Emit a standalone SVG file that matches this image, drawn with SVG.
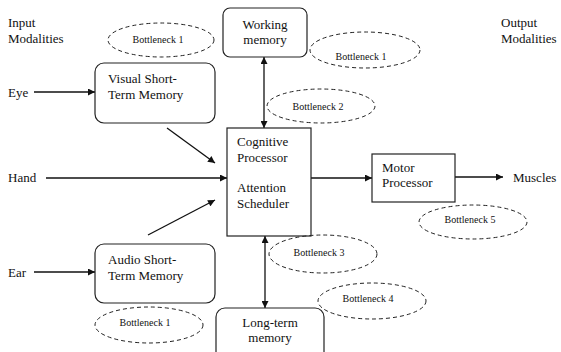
<svg xmlns="http://www.w3.org/2000/svg" width="561" height="352" viewBox="0 0 561 352" font-family="'Liberation Serif', 'DejaVu Serif', serif">
<defs>
<style>
text{font-family:'Liberation Serif','DejaVu Serif',serif;fill:#111}
.t{font-size:13px}
.s{font-size:10px}
.box{fill:#fff;stroke:#222;stroke-width:1.2}
.bn{fill:none;stroke:#222;stroke-width:1;stroke-dasharray:4,3}
.ln{stroke:#111;stroke-width:1.3;fill:none}
</style>
<marker id="ah" viewBox="0 0 10 10" refX="10" refY="5" markerWidth="8" markerHeight="7" markerUnits="userSpaceOnUse" orient="auto-start-reverse">
<path d="M0,0 L10,5 L0,10 z" fill="#111"/>
</marker>
</defs>
<g id="labels">
<text class="t" x="8" y="27">Input</text>
<text class="t" x="8" y="43">Modalities</text>
<text class="t" x="501" y="27">Output</text>
<text class="t" x="501" y="43">Modalities</text>
<text class="t" x="8" y="97">Eye</text>
<text class="t" x="8" y="182">Hand</text>
<text class="t" x="8" y="277">Ear</text>
<text class="t" x="513" y="182">Muscles</text>
</g>
<g id="connectors">
<line class="ln" x1="34" y1="92" x2="95" y2="92" marker-end="url(#ah)"/>
<line class="ln" x1="46" y1="178" x2="227" y2="178" marker-end="url(#ah)"/>
<line class="ln" x1="34" y1="272" x2="95" y2="272" marker-end="url(#ah)"/>
<line class="ln" x1="167" y1="128" x2="215" y2="163" marker-end="url(#ah)"/>
<line class="ln" x1="148" y1="235" x2="215" y2="200" marker-end="url(#ah)"/>
<line class="ln" x1="264" y1="57" x2="264" y2="128" marker-start="url(#ah)" marker-end="url(#ah)"/>
<line class="ln" x1="265" y1="236" x2="265" y2="308" marker-start="url(#ah)" marker-end="url(#ah)"/>
<line class="ln" x1="311" y1="178" x2="372" y2="178" marker-end="url(#ah)"/>
<line class="ln" x1="455" y1="177" x2="503" y2="177" marker-end="url(#ah)"/>
</g>
<g id="visual-stm">
<rect class="box" x="95" y="63" width="120" height="60" rx="9"/>
<text class="t" x="108" y="83">Visual Short-</text>
<text class="t" x="108" y="99">Term Memory</text>
</g>
<g id="audio-stm">
<rect class="box" x="95" y="244" width="120" height="59" rx="9"/>
<text class="t" x="108" y="264">Audio Short-</text>
<text class="t" x="108" y="280">Term Memory</text>
</g>
<g id="working-memory">
<rect class="box" x="223" y="8" width="84" height="49" rx="7"/>
<text class="t" x="265" y="29" text-anchor="middle">Working</text>
<text class="t" x="265" y="44" text-anchor="middle">memory</text>
</g>
<g id="cognitive">
<rect class="box" x="227" y="128" width="84" height="108"/>
<text class="t" x="237" y="146">Cognitive</text>
<text class="t" x="237" y="162">Processor</text>
<text class="t" x="237" y="192">Attention</text>
<text class="t" x="237" y="208">Scheduler</text>
</g>
<g id="motor">
<rect class="box" x="372" y="154" width="83" height="48"/>
<text class="t" x="382" y="172">Motor</text>
<text class="t" x="382" y="187">Processor</text>
</g>
<g id="long-term-memory">
<rect class="box" x="216" y="308" width="108" height="60" rx="9"/>
<text class="t" x="270" y="327" text-anchor="middle">Long-term</text>
<text class="t" x="270" y="342" text-anchor="middle">memory</text>
</g>
<g id="bottleneck-1a">
<ellipse class="bn" cx="161" cy="40" rx="53" ry="17"/>
<text class="s" x="158" y="43" text-anchor="middle">Bottleneck 1</text>
</g>
<g id="bottleneck-1b">
<ellipse class="bn" cx="365" cy="50" rx="55" ry="18"/>
<text class="s" x="361" y="60" text-anchor="middle">Bottleneck 1</text>
</g>
<g id="bottleneck-2">
<ellipse class="bn" cx="321" cy="106" rx="54" ry="17"/>
<text class="s" x="318" y="110" text-anchor="middle">Bottleneck 2</text>
</g>
<g id="bottleneck-3">
<ellipse class="bn" cx="323" cy="254" rx="54" ry="19"/>
<text class="s" x="319" y="256" text-anchor="middle">Bottleneck 3</text>
</g>
<g id="bottleneck-4">
<ellipse class="bn" cx="372" cy="301" rx="54" ry="18"/>
<text class="s" x="368" y="302" text-anchor="middle">Bottleneck 4</text>
</g>
<g id="bottleneck-5">
<ellipse class="bn" cx="473" cy="222" rx="54" ry="17"/>
<text class="s" x="470" y="223" text-anchor="middle">Bottleneck 5</text>
</g>
<g id="bottleneck-1c">
<ellipse class="bn" cx="149" cy="325" rx="54" ry="18"/>
<text class="s" x="145" y="326" text-anchor="middle">Bottleneck 1</text>
</g>
</svg>
